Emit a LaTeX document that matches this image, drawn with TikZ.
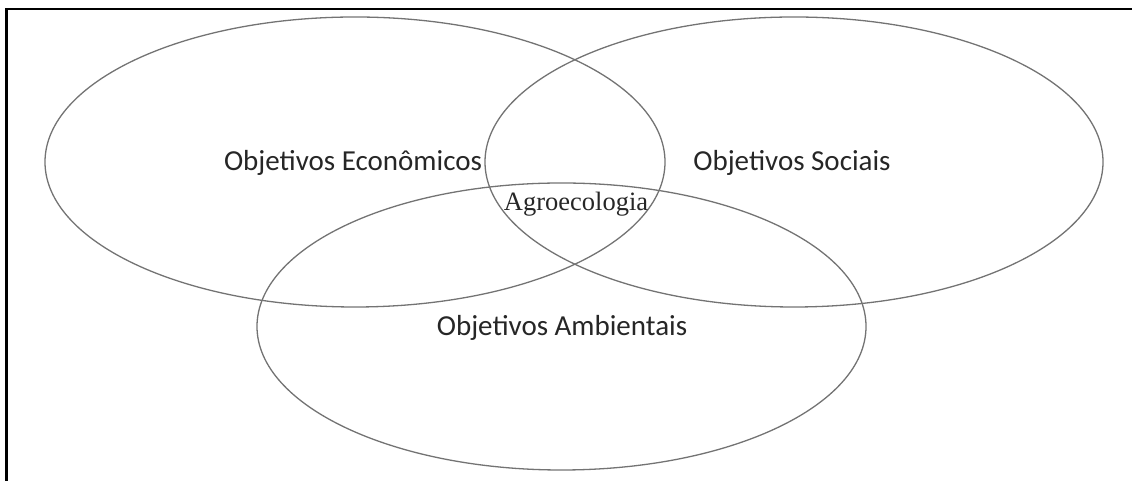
\documentclass[tikz,border=0pt]{standalone}
\usepackage{fontspec}
\setmainfont{Carlito}
\newfontfamily\serifagro{Liberation Serif}
\begin{document}
\begin{tikzpicture}[x=1pt,y=1pt,
  venn/.style={draw=black!55,line width=1.3pt},
  lbl/.style={font=\fontsize{29}{32}\selectfont,text=black!85,inner sep=0pt},
  frameline/.style={draw=black,line width=2.6pt}]
\useasboundingbox (0,0) rectangle (1132,481);
\draw[venn] (355,319) ellipse [x radius=310,y radius=145];
\draw[venn] (794,319) ellipse [x radius=309,y radius=145];
\draw[venn] (561.5,154.5) ellipse [x radius=304.5,y radius=143.5];
\node[lbl] (eco) at (353,318) {Objetivos Econômicos};
\node[lbl] (soc) at (792,318) {Objetivos Sociais};
\node[lbl] (amb) at (562,153) {Objetivos Ambientais};
\node[lbl,font=\serifagro\fontsize{26.5}{30}\selectfont] (agro) at (576,277) {Agroecologia};
\draw[frameline] (6.5,0) -- (6.5,472) -- (1132,472);
\end{tikzpicture}
\end{document}
